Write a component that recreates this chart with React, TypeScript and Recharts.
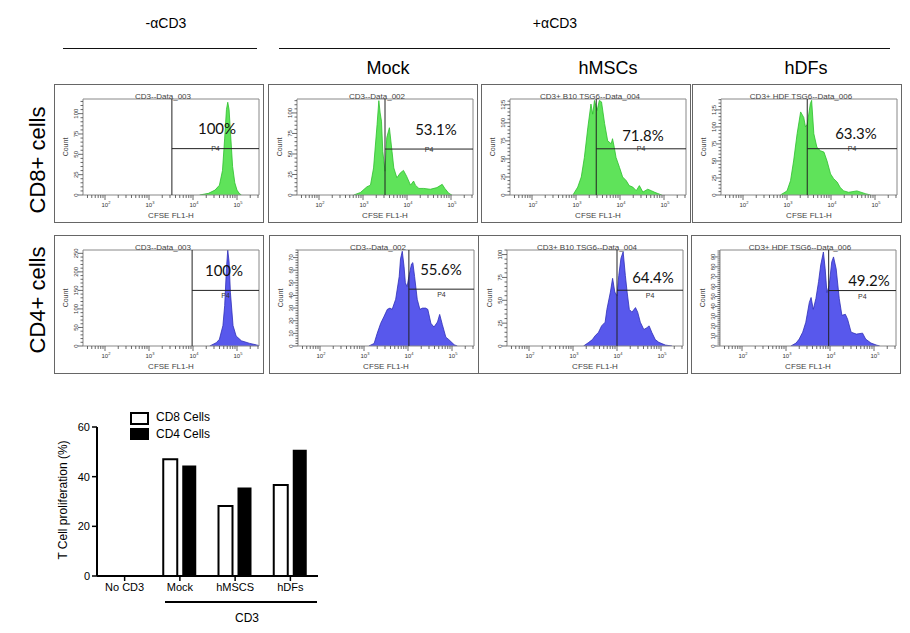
import React from 'react';
import {
  AreaChart, Area, XAxis, YAxis, ReferenceArea, ReferenceLine, ReferenceDot,
  BarChart, Bar,
} from 'recharts';

type Pt = [number, number];

// CFSE histograms: [log10(CFSE FL1-H), count]
const cd8NoCd3: Pt[] = [
  [4.15, 0], [4.35, 2], [4.5, 6], [4.6, 12], [4.67, 30], [4.72, 70], [4.76, 105], [4.79, 114],
  [4.82, 105], [4.86, 70], [4.9, 35], [4.95, 15], [5.0, 6], [5.05, 2], [5.1, 0],
];
const cd8Mock: Pt[] = [
  [2.79, 0], [2.94, 3], [3.09, 10], [3.17, 12], [3.24, 33], [3.32, 86], [3.36, 115], [3.39, 100],
  [3.42, 90], [3.45, 53], [3.5, 29], [3.54, 70], [3.6, 82], [3.66, 53], [3.7, 33], [3.77, 21],
  [3.85, 27], [3.92, 30], [3.99, 23], [4.08, 12], [4.15, 17], [4.19, 12], [4.27, 8], [4.38, 8],
  [4.53, 7], [4.68, 9], [4.8, 13], [4.86, 8], [4.95, 2], [5.02, 0],
];
const cd8Mscs: Pt[] = [
  [2.93, 0], [3.04, 11], [3.12, 25], [3.19, 52], [3.27, 94], [3.34, 126], [3.38, 112], [3.42, 131],
  [3.48, 117], [3.53, 131], [3.58, 129], [3.65, 99], [3.72, 75], [3.8, 71], [3.83, 78], [3.87, 66],
  [3.91, 52], [3.99, 38], [4.06, 25], [4.14, 20], [4.21, 13], [4.29, 11], [4.37, 6], [4.44, 13],
  [4.52, 4], [4.63, 8], [4.71, 6], [4.78, 4], [4.86, 2], [4.95, 0],
];
const cd8Hdf: Pt[] = [
  [2.85, 0], [3.0, 6], [3.08, 21], [3.15, 50], [3.23, 90], [3.31, 122], [3.38, 114], [3.42, 100],
  [3.46, 104], [3.53, 134], [3.56, 139], [3.61, 90], [3.68, 70], [3.76, 65], [3.84, 63], [3.91, 50],
  [3.99, 31], [4.06, 24], [4.14, 19], [4.21, 11], [4.29, 6], [4.4, 4], [4.59, 6], [4.78, 2], [4.9, 0],
];
const cd4NoCd3: Pt[] = [
  [4.38, 0], [4.53, 9], [4.6, 18], [4.68, 55], [4.72, 109], [4.76, 209], [4.79, 259], [4.82, 227],
  [4.85, 145], [4.91, 55], [4.98, 27], [5.1, 14], [5.29, 7], [5.44, 3], [5.5, 1],
];
const cd4Mock: Pt[] = [
  [3.11, 0], [3.23, 2], [3.3, 10], [3.38, 18], [3.45, 23], [3.53, 29], [3.59, 30], [3.64, 29],
  [3.72, 37], [3.8, 55], [3.83, 69], [3.87, 75], [3.91, 63], [3.94, 50], [3.98, 47], [4.02, 55],
  [4.08, 65], [4.11, 66], [4.15, 55], [4.21, 37], [4.27, 29], [4.33, 30], [4.4, 30], [4.45, 29],
  [4.52, 18], [4.59, 15], [4.67, 19], [4.72, 25], [4.78, 17], [4.86, 7], [4.93, 5], [5.05, 1], [5.12, 0],
];
const cd4Mscs: Pt[] = [
  [3.24, 0], [3.36, 4], [3.44, 7], [3.5, 11], [3.58, 15], [3.65, 22], [3.73, 26], [3.77, 40],
  [3.85, 59], [3.9, 74], [3.95, 59], [4.0, 55], [4.04, 77], [4.09, 96], [4.14, 103], [4.19, 77],
  [4.23, 59], [4.28, 40], [4.34, 37], [4.42, 42], [4.47, 37], [4.53, 26], [4.61, 18], [4.68, 20],
  [4.73, 22], [4.79, 15], [4.87, 7], [4.95, 4], [5.1, 1], [5.25, 0],
];
const cd4Hdf: Pt[] = [
  [3.11, 0], [3.23, 3], [3.3, 7], [3.38, 14], [3.45, 24], [3.53, 44], [3.57, 49], [3.62, 37],
  [3.68, 48], [3.74, 65], [3.79, 82], [3.85, 95], [3.89, 78], [3.93, 54], [3.98, 61], [4.04, 85],
  [4.08, 90], [4.14, 78], [4.21, 48], [4.27, 31], [4.35, 32], [4.4, 27], [4.48, 14], [4.6, 12],
  [4.74, 13], [4.81, 7], [4.93, 3], [5.05, 1], [5.13, 0],
];

// proliferation summary
const groups = ['No CD3', 'Mock', 'hMSCS', 'hDFs'];
const cd8Prolif = [0, 47, 28.2, 36.6];
const cd4Prolif = [0, 44.5, 35.6, 50.8];

const decades = [2, 3, 4, 5];
const minorSteps = [2, 3, 4, 5, 6, 7, 8, 9];
const X_MIN = 1.5;
const X_MAX = 5.5;
const xTicks = [
  ...decades,
  ...[1, 2, 3, 4, 5].flatMap((d) => minorSteps.map((k) => d + Math.log10(k))),
].filter((v) => v >= X_MIN && v <= X_MAX).sort((a, b) => a - b);

const SANS = '"Liberation Sans", Arial, sans-serif';
const GREEN = '#5fe35a';
const GREEN_EDGE = '#2cbf2c';
const BLUE = '#5858ec';
const BLUE_EDGE = '#2e2eb8';

function LogTick(props: any) {
  const { x, y, payload } = props;
  const v = payload.value;
  const major = Math.abs(v - Math.round(v)) < 1e-6;
  return (
    <g>
      <line x1={x} x2={x} y1={y} y2={y + (major ? 5 : 3)} stroke="#444" strokeWidth={0.8} />
      {major && (
        <text x={x + 1} y={y + 12} fontSize={6} fill="#333" textAnchor="middle">
          10<tspan dy={-3} fontSize={4}>{Math.round(v)}</tspan>
        </text>
      )}
    </g>
  );
}

function CountTick(props: any) {
  const { x, y, payload, step } = props;
  const v = payload.value;
  const major = Math.abs(v / step - Math.round(v / step)) < 1e-6;
  return (
    <g>
      <line x1={x} x2={x - (major ? 5 : 2.5)} y1={y} y2={y} stroke="#444" strokeWidth={0.8} />
      {major && (
        <text transform={`translate(${x - 5},${y}) rotate(-90)`} fontSize={6} fill="#333" textAnchor="middle">
          {v}
        </text>
      )}
    </g>
  );
}

interface PanelProps {
  left: number; top: number; data: Pt[]; fill: string; edge: string;
  yMax: number; yStep: number; gateX: number; gateY: number;
  title: string; pct: string; pctAt: [number, number]; p4Below?: boolean;
}

function Panel({ left, top, data, fill, edge, yMax, yStep, gateX, gateY, title, pct, pctAt, p4Below }: PanelProps) {
  const pts = data.map(([x, y]) => ({ x, y }));
  const yTicks: number[] = [];
  for (let v = 0; v <= yMax + 1e-6; v += yStep / 5) yTicks.push(+v.toFixed(3));
  const small: React.CSSProperties = { position: 'absolute', fontSize: 8, color: '#444', whiteSpace: 'nowrap', transform: 'translate(-50%,-50%)' };
  return (
    <div style={{ position: 'absolute', left, top, width: 210, height: 139, border: '1px solid #666', boxSizing: 'border-box' }}>
      <div style={{ position: 'absolute', left: 0, top: 0 }}>
        <AreaChart width={208} height={137} data={pts} margin={{ top: 14, right: 4, left: 0, bottom: 0 }}>
          <XAxis type="number" dataKey="x" domain={[X_MIN, X_MAX]} ticks={xTicks} interval={0} height={27}
            tickSize={0} tickMargin={0} axisLine={false} tickLine={false} tick={LogTick} allowDataOverflow />
          <YAxis type="number" domain={[0, yMax]} ticks={yTicks} interval={0} width={28}
            tickSize={0} tickMargin={0} axisLine={false} tickLine={false}
            tick={(p: any) => <CountTick {...p} step={yStep} />} allowDataOverflow />
          <Area type="linear" dataKey="y" fill={fill} fillOpacity={1} stroke={edge} strokeWidth={0.8}
            dot={false} activeDot={false} isAnimationActive={false} />
          <ReferenceArea x1={X_MIN} x2={X_MAX} y1={0} y2={yMax} fill="none" stroke="#888" strokeWidth={1} />
          <ReferenceLine x={gateX} stroke="#222" strokeWidth={1} />
          <ReferenceLine segment={[{ x: gateX, y: gateY }, { x: X_MAX, y: gateY }]} stroke="#222" strokeWidth={1} />
          <ReferenceDot x={(gateX + X_MAX) / 2} y={gateY} r={0}
            label={{ value: 'P4', position: p4Below ? 'bottom' : 'center', offset: 3, fontSize: 7, fill: '#333' }} />
        </AreaChart>
      </div>
      <div style={{ ...small, left: 108, top: 11 }}>{title}</div>
      <div style={{ ...small, left: 116, top: 130 }}>CFSE FL1-H</div>
      <div style={{ ...small, left: 10, top: 62, fontSize: 7, transform: 'translate(-50%,-50%) rotate(-90deg)' }}>Count</div>
      <div style={{ position: 'absolute', left: pctAt[0] - 1, top: pctAt[1] - 1, transform: 'translate(-50%,-50%)',
        fontFamily: 'Lato, sans-serif', fontSize: 15, color: '#111', whiteSpace: 'nowrap' }}>{pct}</div>
    </div>
  );
}

export default function App() {
  const barRows = groups.map((g, i) => ({ group: g, cd8: cd8Prolif[i], cd4: cd4Prolif[i] }));
  const txt: React.CSSProperties = { position: 'absolute', whiteSpace: 'nowrap', transform: 'translate(-50%,-50%)', color: '#000' };
  return (
    <div style={{ position: 'absolute', left: 0, top: 0, width: 910, height: 633, background: '#fff', overflow: 'hidden', fontFamily: SANS }}>
      {/* headers */}
      <div style={{ ...txt, left: 166, top: 23, fontSize: 14 }}>-αCD3</div>
      <div style={{ ...txt, left: 555, top: 23, fontSize: 14 }}>+αCD3</div>
      <div style={{ position: 'absolute', left: 63, top: 48, width: 194, height: 1, background: '#111' }} />
      <div style={{ position: 'absolute', left: 279, top: 48, width: 611, height: 1, background: '#111' }} />
      <div style={{ ...txt, left: 388, top: 68, fontSize: 18 }}>Mock</div>
      <div style={{ ...txt, left: 608, top: 68, fontSize: 18 }}>hMSCs</div>
      <div style={{ ...txt, left: 806, top: 68, fontSize: 18 }}>hDFs</div>
      <div style={{ ...txt, left: 38, top: 160, fontSize: 22, transform: 'translate(-50%,-50%) rotate(-90deg)' }}>CD8+ cells</div>
      <div style={{ ...txt, left: 38, top: 300, fontSize: 22, transform: 'translate(-50%,-50%) rotate(-90deg)' }}>CD4+ cells</div>

      {/* CD8 row */}
      <Panel left={54} top={84} data={cd8NoCd3} fill={GREEN} edge={GREEN_EDGE} yMax={118} yStep={25}
        gateX={3.52} gateY={57} title="CD3--Data_003" pct="100%" pctAt={[163, 44]} />
      <Panel left={268} top={84} data={cd8Mock} fill={GREEN} edge={GREEN_EDGE} yMax={117} yStep={25}
        gateX={3.5} gateY={56} title="CD3--Data_002" pct="53.1%" pctAt={[168, 45]} />
      <Panel left={481} top={84} data={cd8Mscs} fill={GREEN} edge={GREEN_EDGE} yMax={133} yStep={25}
        gateX={3.46} gateY={64} title="CD3+ B10 TSG6--Data_004" pct="71.8%" pctAt={[162, 51]} />
      <Panel left={692} top={84} data={cd8Hdf} fill={GREEN} edge={GREEN_EDGE} yMax={141} yStep={25}
        gateX={3.46} gateY={68} title="CD3+ HDF TSG6--Data_006" pct="63.3%" pctAt={[164, 49]} />

      {/* CD4 row */}
      <Panel left={54} top={235} data={cd4NoCd3} fill={BLUE} edge={BLUE_EDGE} yMax={259} yStep={50}
        gateX={3.98} gateY={150} title="CD3--Data_003" pct="100%" pctAt={[170, 35]} p4Below />
      <Panel left={269} top={235} data={cd4Mock} fill={BLUE} edge={BLUE_EDGE} yMax={76} yStep={10}
        gateX={4.02} gateY={45} title="CD3--Data_002" pct="55.6%" pctAt={[172, 34]} p4Below />
      <Panel left={478} top={235} data={cd4Mscs} fill={BLUE} edge={BLUE_EDGE} yMax={105} yStep={25}
        gateX={4.0} gateY={61} title="CD3+ B10 TSG6--Data_004" pct="64.4%" pctAt={[175, 42]} p4Below />
      <Panel left={691} top={235} data={cd4Hdf} fill={BLUE} edge={BLUE_EDGE} yMax={97} yStep={10}
        gateX={3.97} gateY={56} title="CD3+ HDF TSG6--Data_006" pct="49.2%" pctAt={[178, 45]} p4Below />

      {/* proliferation bar chart */}
      <div style={{ position: 'absolute', left: 40, top: 400 }}>
        <BarChart width={300} height={233} data={barRows} margin={{ top: 27, right: 22, left: 0, bottom: 0 }}
          barSize={14} barGap={5}>
          <XAxis dataKey="group" height={57} interval={0} tickSize={5} tickMargin={2}
            axisLine={{ stroke: '#000', strokeWidth: 2 }} tickLine={{ stroke: '#000', strokeWidth: 1.5 }}
            tick={{ fontSize: 11, fill: '#000' }} />
          <YAxis type="number" domain={[0, 60]} ticks={[0, 20, 40, 60]} width={57} tickSize={5} tickMargin={2}
            axisLine={{ stroke: '#000', strokeWidth: 2 }} tickLine={{ stroke: '#000', strokeWidth: 1.5 }}
            tick={{ fontSize: 11, fill: '#000' }} />
          <Bar dataKey="cd8" fill="#fff" stroke="#000" strokeWidth={2} isAnimationActive={false} />
          <Bar dataKey="cd4" fill="#000" isAnimationActive={false} />
        </BarChart>
      </div>
      <div style={{ ...txt, left: 63, top: 500, fontSize: 12, transform: 'translate(-50%,-50%) rotate(-90deg)' }}>T Cell proliferation (%)</div>
      <div style={{ position: 'absolute', left: 130, top: 412, width: 15, height: 9, border: '2px solid #000', background: '#fff' }} />
      <div style={{ position: 'absolute', left: 130, top: 428, width: 19, height: 12, background: '#000' }} />
      <div style={{ position: 'absolute', left: 156, top: 410, fontSize: 12 }}>CD8 Cells</div>
      <div style={{ position: 'absolute', left: 156, top: 427, fontSize: 12 }}>CD4 Cells</div>
      <div style={{ position: 'absolute', left: 165, top: 601, width: 152, height: 2, background: '#000' }} />
      <div style={{ ...txt, left: 247, top: 618, fontSize: 12 }}>CD3</div>
    </div>
  );
}
